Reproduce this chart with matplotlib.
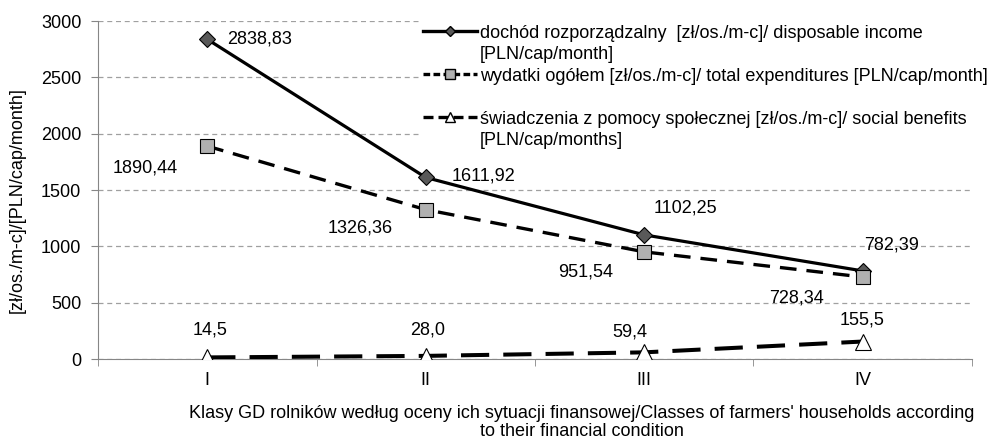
import matplotlib.pyplot as plt
from matplotlib.lines import Line2D

plt.rcParams['font.family'] = ['Liberation Sans', 'DejaVu Sans']
plt.rcParams['font.size'] = 13

classes = ['I', 'II', 'III', 'IV']
income = [2838.83, 1611.92, 1102.25, 782.39]
expenditures = [1890.44, 1326.36, 951.54, 728.34]
benefits = [14.5, 28.0, 59.4, 155.5]
income_lbl = ['2838,83', '1611,92', '1102,25', '782,39']
exp_lbl = ['1890,44', '1326,36', '951,54', '728,34']
ben_lbl = ['14,5', '28,0', '59,4', '155,5']
yticks = [0, 500, 1000, 1500, 2000, 2500, 3000]

# label offsets in pixels (dx, dy)
income_off = [(52, 0), (58, 1), (41, 27), (29, 26)]
exp_off = [(-62, -22), (-66, -18), (-59, -20), (-66, -21)]
ben_off = [(3, 27), (2, 26), (-14, 20), (-1, 22)]

fig = plt.figure(figsize=(9.91, 4.40), dpi=100)
ax = fig.add_axes([0.0989, 0.184, 0.8819, 0.768])
x = list(range(len(classes)))

ax.plot(x, income, color='black', lw=2.3, marker='D', ms=8, mfc='#595959', mec='black', mew=0.8, zorder=4)
ax.plot(x, expenditures, color='black', lw=2.4, ls=(0, (5, 3)), marker='s', ms=10, mfc='#b0b0b0', mec='black', mew=0.8, zorder=5)
ax.plot(x, benefits, color='black', lw=2.9, ls=(0, (7, 3.5)), marker='^', ms=11, mfc='white', mec='black', mew=0.8, zorder=6)

for xs, vals, lbls, offs in [(x, income, income_lbl, income_off),
                             (x, expenditures, exp_lbl, exp_off),
                             (x, benefits, ben_lbl, ben_off)]:
    for xi, v, t, o in zip(xs, vals, lbls, offs):
        ax.annotate(t, (xi, v), xytext=o, textcoords='offset pixels',
                    ha='center', va='center', fontsize=13, zorder=12)

ax.set_xlim(-0.5, 3.5)
ax.set_ylim(0, 3000)
ax.set_yticks(yticks)
ax.set_xticks(x)
ax.set_xticklabels(classes)
ax.set_xticks([-0.5, 0.5, 1.5, 2.5, 3.5], minor=True)
ax.tick_params(axis='x', which='major', length=0, pad=9)
ax.tick_params(axis='x', which='minor', length=5, color='#868686')
ax.tick_params(axis='y', length=5, color='#868686', pad=7)
ax.yaxis.grid(True, color='#a0a0a0', ls=(0, (4, 3)), lw=0.9)
ax.set_axisbelow(True)
for s in ['top', 'right']:
    ax.spines[s].set_visible(False)
for s in ['left', 'bottom']:
    ax.spines[s].set_color('#868686')

fig.text(0.017, 0.545, '[zł/os./m-c]/[PLN/cap/month]', rotation=90, ha='center', va='center', fontsize=13)
fig.text(0.587, 0.039, "Klasy GD rolników według oceny ich sytuacji finansowej/Classes of farmers' households according\nto their financial condition",
         ha='center', va='center', fontsize=13, linespacing=1.1)

blank = Line2D([], [], ls='none')
handles = [
    Line2D([], [], color='black', lw=2.4, marker='D', ms=5, mfc='#595959', mec='black'),
    blank,
    Line2D([], [], color='black', lw=2.4, ls=(0, (2, 1)), marker='s', ms=7, mfc='#b0b0b0', mec='black'),
    blank,
    Line2D([], [], color='black', lw=2.4, ls=(0, (3, 1.5)), marker='^', ms=7, mfc='white', mec='black'),
    blank,
]
labels = ['dochód rozporządzalny  [zł/os./m-c]/ disposable income', '[PLN/cap/month]',
          'wydatki ogółem [zł/os./m-c]/ total expenditures [PLN/cap/month]', '',
          'świadczenia z pomocy społecznej [zł/os./m-c]/ social benefits', '[PLN/cap/months]']
leg = ax.legend(handles, labels, loc='upper left', bbox_to_anchor=(0.368, 1.0),
                frameon=True, fancybox=False, edgecolor='white', framealpha=1,
                handlelength=2.95, handletextpad=0.17, labelspacing=0.25, borderpad=0.2,
                fontsize=13, borderaxespad=0)
leg.set_zorder(10)

fig.savefig('out.png', dpi=100)
